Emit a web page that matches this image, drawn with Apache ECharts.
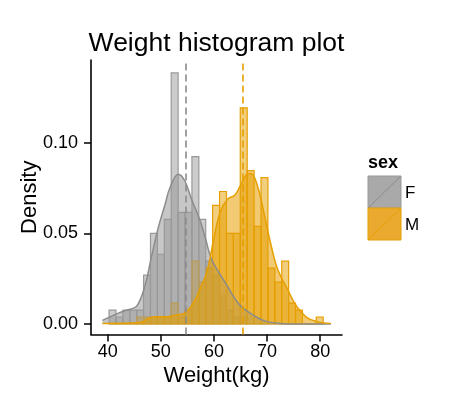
<!DOCTYPE html>
<html>
<head>
<meta charset="utf-8">
<script src="https://cdn.jsdelivr.net/npm/echarts@6/dist/echarts.min.js"></script>
<style>
html, body { margin: 0; padding: 0; background: #fff; }
#main { width: 474px; height: 406px; }
</style>
</head>
<body>
<div id="main"></div>
<script>
// histogram bins: 31 bins of 1.3 kg starting at 40.25
var binStart = 40.25;
var binWidth = 1.3;
var femaleCounts = [2, 1, 2, 2, 2, 7, 13, 10, 15, 36, 16, 16, 24, 15, 9, 7, 4, 2, 1, 1, 0, 0, 0, 0, 0, 0, 0, 0, 0, 0, 0];
var maleCounts = [0, 0, 0, 0, 1, 1, 1, 1, 1, 3, 1, 2, 9, 6, 8, 17, 19, 13, 13, 31, 22, 14, 21, 8, 6, 9, 3, 2, 0, 0, 1];
var countDensity = 1 / 260; // 1 obs / (200 obs * 1.3 kg)

// density curves [kg, density]
var femaleCurve = [[39, 0.002], [40.5, 0.004], [42, 0.006], [44, 0.008], [45.5, 0.010], [47, 0.021],
  [48.3, 0.038], [49.5, 0.053], [50.8, 0.066], [51.7, 0.075], [53.3, 0.0826], [54.5, 0.079],
  [55.75, 0.069], [57.4, 0.057], [58.5, 0.046], [59.5, 0.036], [61, 0.028], [62.5, 0.021],
  [63.7, 0.015], [65, 0.010], [66.8, 0.006], [68.5, 0.003], [70, 0.0013], [72.5, 0.0003],
  [75, 0], [82, 0]];
var maleCurve = [[39, 0.0003], [44, 0.0005], [46.3, 0.001], [47.6, 0.003], [49, 0.004], [51, 0.004],
  [53, 0.005], [54.5, 0.006], [56.4, 0.013], [57.6, 0.021], [58.7, 0.029], [59.9, 0.046],
  [61.2, 0.062], [62.6, 0.069], [63.9, 0.071], [65.1, 0.077], [66.5, 0.083], [67.0, 0.083],
  [68.2, 0.076], [69.5, 0.060], [70.7, 0.044], [72.0, 0.030], [73.7, 0.020], [75.6, 0.0095],
  [77.5, 0.0035], [79.4, 0.0013], [82, 0.0002]];

var femaleMean = 54.7;
var maleMean = 65.4;

var xTicks = [40, 50, 60, 70, 80];
var yTicks = [0, 0.05, 0.10];

var grey = '#999999';
var orange = '#E69F00';
var font = 'Liberation Sans';

function toBins(counts) {
  var out = [];
  for (var i = 0; i < counts.length; i++) {
    var x0 = binStart + i * binWidth;
    out.push([x0, x0 + binWidth, counts[i] * countDensity]);
  }
  return out;
}

function barRenderer(color) {
  return function (params, api) {
    var p0 = api.coord([api.value(0), api.value(2)]);
    var p1 = api.coord([api.value(1), 0]);
    return {
      type: 'rect',
      shape: { x: p0[0], y: p0[1], width: p1[0] - p0[0], height: p1[1] - p0[1] },
      style: { fill: color, opacity: 1, stroke: color, lineWidth: 1.2, fillOpacity: 0.5 }
    };
  };
}

function meanLine(v, color) {
  return {
    silent: true,
    symbol: 'none',
    label: { show: false },
    lineStyle: { color: color, type: [7, 4], width: 1.6 },
    data: [{ xAxis: v }],
    animation: false
  };
}

var myChart = echarts.init(document.getElementById('main'));

var option = {
  animation: false,
  grid: { left: 91, right: 132, top: 60, bottom: 71.5 },
  xAxis: {
    type: 'value',
    min: 36.85,
    max: 84.1,
    name: 'Weight(kg)',
    nameLocation: 'middle',
    nameGap: 30,
    nameMoveOverlap: false,
    nameTextStyle: { fontFamily: font, fontSize: 22, color: '#000' },
    axisLine: { show: true, onZero: false, lineStyle: { color: '#000', width: 1.6 } },
    axisTick: { show: true, length: 7, lineStyle: { color: '#000', width: 1.5 }, customValues: xTicks },
    axisLabel: { color: '#000', fontFamily: font, fontSize: 18, margin: 9, customValues: xTicks },
    splitLine: { show: false }
  },
  yAxis: {
    type: 'value',
    min: -0.0058,
    max: 0.1456,
    name: 'Density',
    nameLocation: 'middle',
    nameGap: 50,
    nameMoveOverlap: false,
    nameTextStyle: { fontFamily: font, fontSize: 22, color: '#000' },
    axisLine: { show: true, onZero: false, lineStyle: { color: '#000', width: 1.6 } },
    axisTick: { show: true, length: 7, lineStyle: { color: '#000', width: 1.5 }, customValues: yTicks },
    axisLabel: {
      color: '#000', fontFamily: font, fontSize: 18, margin: 13, customValues: yTicks,
      formatter: function (v) { return v.toFixed(2); }
    },
    splitLine: { show: false }
  },
  series: [
    {
      name: 'F', type: 'custom', z: 2,
      renderItem: barRenderer(grey),
      encode: { x: [0, 1], y: 2 },
      data: toBins(femaleCounts)
    },
    {
      name: 'M', type: 'custom', z: 2,
      renderItem: barRenderer(orange),
      encode: { x: [0, 1], y: 2 },
      data: toBins(maleCounts)
    },
    {
      name: 'F density', type: 'line', z: 3,
      data: femaleCurve, smooth: 0.4, showSymbol: false,
      lineStyle: { color: '#8c8c8c', width: 1.5 },
      areaStyle: { color: grey, opacity: 0.55 },
      markLine: meanLine(femaleMean, '#8c8c8c')
    },
    {
      name: 'M density', type: 'line', z: 3,
      data: maleCurve, smooth: 0.4, showSymbol: false,
      lineStyle: { color: orange, width: 1.5 },
      areaStyle: { color: orange, opacity: 0.55 },
      markLine: meanLine(maleMean, orange)
    }
  ],
  graphic: [
    {
      type: 'text', x: 216.5, y: 44,
      style: { text: 'Weight histogram plot', fontFamily: font, fontSize: 26.5, fill: '#000',
        textAlign: 'center', textVerticalAlign: 'middle' }
    },
    {
      type: 'text', x: 368, y: 163,
      style: { text: 'sex', fontFamily: font, fontSize: 18, fontWeight: 'bold', fill: '#000',
        textVerticalAlign: 'middle' }
    },
    { type: 'rect', shape: { x: 368, y: 176, width: 33, height: 32 },
      style: { fill: '#a9a9a9', stroke: grey, lineWidth: 1 } },
    { type: 'line', shape: { x1: 368, y1: 208, x2: 401, y2: 176 },
      style: { stroke: '#8c8c8c', lineWidth: 1 } },
    { type: 'text', x: 405, y: 193,
      style: { text: 'F', fontFamily: font, fontSize: 17, fill: '#000', textVerticalAlign: 'middle' } },
    { type: 'rect', shape: { x: 368, y: 208, width: 33, height: 32 },
      style: { fill: '#eaaa30', stroke: orange, lineWidth: 1 } },
    { type: 'line', shape: { x1: 368, y1: 240, x2: 401, y2: 208 },
      style: { stroke: orange, lineWidth: 1 } },
    { type: 'text', x: 405, y: 225,
      style: { text: 'M', fontFamily: font, fontSize: 17, fill: '#000', textVerticalAlign: 'middle' } }
  ]
};

myChart.setOption(option);
</script>
</body>
</html>
